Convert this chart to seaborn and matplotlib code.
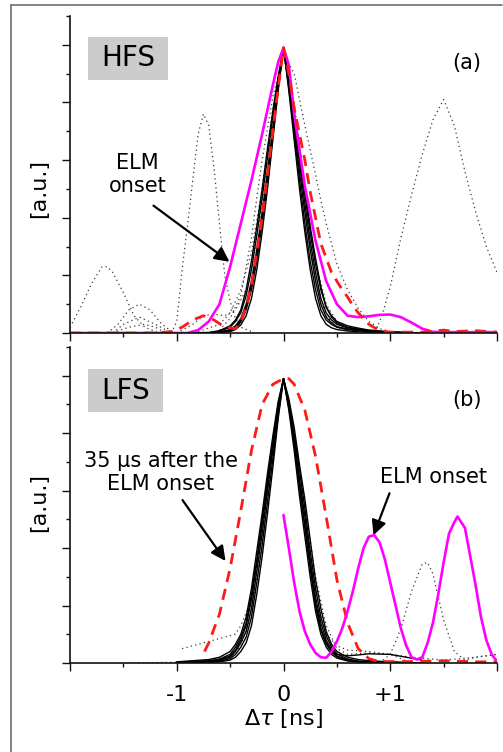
import matplotlib
matplotlib.use("Agg")
import matplotlib.pyplot as plt
import seaborn as sns
from matplotlib.patches import Rectangle
from matplotlib.lines import Line2D

# ---------------- data ----------------
# common grid for the bundle of black solid traces
grid = [-1.0, -0.7, -0.6, -0.5, -0.45, -0.4, -0.35, -0.3, -0.25, -0.2, -0.15, -0.1, -0.05, 0,
        0.05, 0.1, 0.15, 0.2, 0.25, 0.3, 0.35, 0.4, 0.45, 0.5, 0.6, 0.7, 0.8, 1.0, 1.3]

# HFS (top) black solid traces
hfs_c = [0, 0, 0.003, 0.012, 0.025, 0.05, 0.10, 0.18, 0.29, 0.42, 0.56, 0.71, 0.86, 0.99,
         0.86, 0.71, 0.56, 0.42, 0.29, 0.18, 0.10, 0.055, 0.035, 0.022, 0.014, 0.01, 0.006, 0.002, 0]
hfs_n = [0, 0, 0.001, 0.005, 0.012, 0.028, 0.06, 0.12, 0.22, 0.35, 0.50, 0.67, 0.84, 0.99,
         0.84, 0.67, 0.50, 0.35, 0.22, 0.12, 0.06, 0.03, 0.018, 0.012, 0.007, 0.004, 0.002, 0.001, 0]
hfs_w = [0, 0.002, 0.008, 0.025, 0.045, 0.08, 0.15, 0.25, 0.37, 0.50, 0.64, 0.77, 0.89, 0.99,
         0.89, 0.77, 0.64, 0.50, 0.37, 0.26, 0.16, 0.09, 0.055, 0.035, 0.02, 0.014, 0.009, 0.003, 0]
hfs_a1 = [0, 0.001, 0.006, 0.02, 0.04, 0.07, 0.13, 0.22, 0.34, 0.47, 0.61, 0.75, 0.88, 0.99,
          0.85, 0.69, 0.53, 0.38, 0.25, 0.15, 0.08, 0.045, 0.03, 0.02, 0.012, 0.008, 0.005, 0.002, 0]
hfs_a2 = [0, 0, 0.002, 0.008, 0.018, 0.038, 0.08, 0.15, 0.25, 0.38, 0.52, 0.68, 0.85, 0.99,
          0.87, 0.73, 0.59, 0.45, 0.32, 0.21, 0.12, 0.07, 0.045, 0.03, 0.018, 0.012, 0.007, 0.002, 0]
hfs_a3 = [0, 0, 0.002, 0.01, 0.02, 0.045, 0.09, 0.17, 0.27, 0.40, 0.54, 0.70, 0.85, 0.99,
          0.88, 0.75, 0.61, 0.48, 0.35, 0.24, 0.15, 0.09, 0.06, 0.04, 0.025, 0.017, 0.01, 0.004, 0]

# HFS magenta (ELM onset)
hfs_mag_x = [-2.0, -1.0, -0.9, -0.8, -0.7, -0.6, -0.5, -0.4, -0.3, -0.2, -0.1, -0.05, 0, 0.05, 0.1,
             0.2, 0.3, 0.4, 0.5, 0.6, 0.7, 0.8, 0.9, 1.0, 1.1, 1.2, 1.3, 1.4, 1.5, 2.0]
hfs_mag_y = [0, 0, 0, 0.01, 0.04, 0.1, 0.23, 0.38, 0.53, 0.69, 0.86, 0.94, 0.99, 0.93, 0.76,
             0.51, 0.32, 0.18, 0.10, 0.06, 0.055, 0.058, 0.063, 0.064, 0.055, 0.036, 0.015, 0.004, 0.003, 0.003]

# HFS red dashed
hfs_red_x = [-2.0, -1.2, -1.05, -0.95, -0.85, -0.75, -0.65, -0.55, -0.45, -0.4, -0.35, -0.3, -0.25,
             -0.2, -0.15, -0.1, -0.05, 0, 0.05, 0.1, 0.15, 0.2, 0.25, 0.3, 0.35, 0.4, 0.45, 0.5,
             0.55, 0.6, 0.65, 0.7, 0.8, 0.9, 1.0, 1.3, 1.5, 1.6, 1.8, 2.0]
hfs_red_y = [0, 0, 0.005, 0.02, 0.045, 0.06, 0.045, 0.02, 0.015, 0.04, 0.09, 0.17, 0.28,
             0.40, 0.55, 0.70, 0.85, 0.99, 0.9, 0.78, 0.69, 0.6, 0.49, 0.40, 0.31, 0.26, 0.21, 0.18,
             0.15, 0.125, 0.095, 0.07, 0.03, 0.008, 0.003, 0.003, 0.01, 0.005, 0.008, 0.003]

# HFS dotted traces
hfs_d1_x = [-2.0, -1.9, -1.8, -1.7, -1.65, -1.6, -1.5, -1.4, -1.3, -1.2, -1.1]
hfs_d1_y = [0.02, 0.09, 0.17, 0.23, 0.23, 0.21, 0.14, 0.06, 0.02, 0.005, 0]
hfs_d2_x = [-1.65, -1.55, -1.45, -1.35, -1.25, -1.15, -1.05]
hfs_d2_y = [0, 0.03, 0.08, 0.1, 0.08, 0.035, 0.005]
hfs_d3_x = [-1.6, -1.5, -1.35, -1.2, -1.05]
hfs_d3_y = [0, 0.03, 0.055, 0.03, 0]
hfs_d4_x = [-1.05, -1.0, -0.95, -0.9, -0.85, -0.8, -0.75, -0.7, -0.65, -0.6, -0.55, -0.5, -0.45, -0.4, -0.3]
hfs_d4_y = [0, 0.04, 0.22, 0.37, 0.53, 0.69, 0.76, 0.72, 0.57, 0.38, 0.2, 0.11, 0.05, 0.02, 0.005]
hfs_d5_x = [0.8, 0.88, 0.93, 1.0, 1.1, 1.2, 1.3, 1.4, 1.5, 1.6, 1.7, 1.8, 1.9, 2.0]
hfs_d5_y = [0, 0.02, 0.07, 0.16, 0.33, 0.48, 0.62, 0.74, 0.81, 0.72, 0.56, 0.42, 0.30, 0.21]
hfs_d6_x = [-0.6, -0.5, -0.4, -0.3, -0.25, -0.2, -0.1, 0, 0.1, 0.2, 0.3, 0.35, 0.4, 0.5, 0.6, 0.7,
            0.8, 0.9, 1.0, 1.2]
hfs_d6_y = [0.01, 0.05, 0.13, 0.33, 0.47, 0.6, 0.82, 0.97, 0.9, 0.72, 0.55, 0.46, 0.38, 0.24, 0.15,
            0.085, 0.04, 0.015, 0.005, 0]
hfs_d7_x = [-1.0, -0.85, -0.75, -0.65, -0.55, -0.45, -0.35, -0.3, -0.2, -0.1, 0, 0.1, 0.2, 0.3, 0.4, 0.5, 0.7]
hfs_d7_y = [0, 0.03, 0.06, 0.065, 0.06, 0.08, 0.15, 0.22, 0.45, 0.75, 0.97, 0.75, 0.42, 0.18, 0.06, 0.02, 0]
hfs_d8_x = [-1.6, -1.45, -1.3, -1.2, -1.1]
hfs_d8_y = [0, 0.02, 0.03, 0.02, 0]
hfs_d9_x = [-0.8, -0.6, -0.5, -0.4, -0.3, -0.2, -0.1, 0, 0.1, 0.2, 0.3, 0.4, 0.5, 0.6, 0.8]
hfs_d9_y = [0.005, 0.03, 0.07, 0.15, 0.28, 0.5, 0.78, 0.98, 0.8, 0.5, 0.25, 0.1, 0.04, 0.02, 0.005]

# LFS (bottom) black solid traces
lfs_c = [0.002, 0.005, 0.008, 0.02, 0.04, 0.07, 0.11, 0.19, 0.32, 0.45, 0.6, 0.74, 0.88, 0.99,
         0.9, 0.78, 0.64, 0.51, 0.36, 0.23, 0.14, 0.08, 0.045, 0.025, 0.01, 0.005, 0.003, 0.002, 0]
lfs_n = [0, 0.002, 0.004, 0.01, 0.02, 0.04, 0.07, 0.13, 0.24, 0.37, 0.52, 0.68, 0.85, 0.99,
         0.88, 0.74, 0.58, 0.44, 0.30, 0.18, 0.10, 0.055, 0.03, 0.017, 0.007, 0.003, 0.002, 0.001, 0]
lfs_w = [0.004, 0.012, 0.02, 0.04, 0.065, 0.1, 0.16, 0.26, 0.39, 0.52, 0.66, 0.79, 0.91, 0.99,
         0.92, 0.82, 0.69, 0.57, 0.43, 0.29, 0.19, 0.11, 0.065, 0.04, 0.02, 0.012, 0.008, 0.004, 0]
lfs_a1 = [0.002, 0.006, 0.01, 0.025, 0.045, 0.08, 0.13, 0.22, 0.35, 0.48, 0.62, 0.76, 0.89, 0.99,
          0.89, 0.77, 0.62, 0.48, 0.34, 0.21, 0.12, 0.07, 0.045, 0.03, 0.025, 0.028, 0.032, 0.03, 0.01]
lfs_a2 = [0.001, 0.004, 0.006, 0.015, 0.03, 0.055, 0.09, 0.16, 0.28, 0.41, 0.56, 0.71, 0.86, 0.99,
          0.91, 0.8, 0.67, 0.54, 0.39, 0.26, 0.16, 0.095, 0.055, 0.032, 0.014, 0.007, 0.004, 0.002, 0]
lfs_a3 = [0.003, 0.008, 0.014, 0.03, 0.055, 0.09, 0.14, 0.24, 0.36, 0.5, 0.64, 0.77, 0.9, 0.99,
          0.89, 0.76, 0.61, 0.47, 0.33, 0.2, 0.115, 0.065, 0.038, 0.022, 0.01, 0.005, 0.003, 0.001, 0]

# LFS magenta (ELM onset)
lfs_mag_x = [0, 0.05, 0.1, 0.15, 0.2, 0.25, 0.3, 0.35, 0.4, 0.45, 0.5, 0.55, 0.6, 0.65, 0.7, 0.75,
             0.8, 0.85, 0.9, 0.95, 1.0, 1.05, 1.1, 1.15, 1.2, 1.25, 1.3, 1.35, 1.4, 1.45, 1.5, 1.55,
             1.6, 1.63, 1.7, 1.75, 1.8, 1.85, 1.9, 1.95, 2.0]
lfs_mag_y = [0.515, 0.40, 0.28, 0.18, 0.11, 0.065, 0.035, 0.02, 0.018, 0.04, 0.075, 0.12, 0.18,
             0.25, 0.33, 0.40, 0.44, 0.445, 0.42, 0.36, 0.28, 0.2, 0.12, 0.06, 0.02, 0.012, 0.02,
             0.07, 0.14, 0.24, 0.35, 0.45, 0.49, 0.51, 0.47, 0.37, 0.27, 0.16, 0.08, 0.03, 0.005]

# LFS red dashed (35 us after the ELM onset)
lfs_red_x = [-0.74, -0.7, -0.6, -0.5, -0.4, -0.3, -0.2, -0.1, 0, 0.05, 0.1, 0.2, 0.3, 0.4, 0.5,
             0.6, 0.7, 0.8, 0.9, 1.2, 1.5, 1.8, 2.0]
lfs_red_y = [0.04, 0.07, 0.17, 0.33, 0.53, 0.74, 0.9, 0.97, 0.99, 0.99, 0.97, 0.88, 0.72, 0.51,
             0.29, 0.14, 0.05, 0.015, 0.005, 0.005, 0.008, 0.004, 0.004]

# LFS dotted traces
lfs_e1_x = [0.9, 1.0, 1.1, 1.2, 1.3, 1.35, 1.4, 1.5, 1.6, 1.7, 1.8, 2.0]
lfs_e1_y = [0, 0.03, 0.12, 0.25, 0.345, 0.35, 0.31, 0.15, 0.04, 0.01, 0.02, 0.03]
lfs_e2_x = [-0.95, -0.8, -0.6, -0.45, -0.4, -0.3, -0.2, -0.1, 0, 0.1, 0.2, 0.3, 0.4, 0.5, 0.6, 0.8,
            1.0, 1.2, 1.5, 1.8, 2.0]
lfs_e2_y = [0.05, 0.065, 0.085, 0.1, 0.13, 0.22, 0.45, 0.75, 0.99, 0.8, 0.52, 0.25, 0.1, 0.06,
            0.045, 0.04, 0.03, 0.02, 0.01, 0.02, 0.03]
lfs_e3_x = [-1.4, -1.0, -0.7, -0.5, -0.4, -0.3, -0.2, -0.1, 0, 0.1, 0.2, 0.3, 0.4, 0.5, 0.6, 0.8, 1.0, 1.2]
lfs_e3_y = [0, 0.003, 0.008, 0.02, 0.06, 0.17, 0.42, 0.73, 0.99, 0.8, 0.55, 0.3, 0.13, 0.05, 0.03,
            0.035, 0.03, 0.0]

xtick_pos = [-2, -1, 0, 1, 2]
xtick_lab = ["", "-1", "0", "+1", ""]

# ---------------- styling ----------------
sns.set_style("ticks")
plt.rcParams["font.family"] = ["DejaVu Sans"]
plt.rcParams["mathtext.fontset"] = "dejavusans"
plt.rcParams["text.color"] = "black"
plt.rcParams["axes.labelcolor"] = "black"
plt.rcParams["xtick.color"] = "black"
plt.rcParams["ytick.color"] = "black"

W, H = 503, 752
fig = plt.figure(figsize=(W / 100, H / 100), dpi=100)


def px_axes(x0, x1, ytop, ybot):
    return fig.add_axes([x0 / W, 1 - ybot / H, (x1 - x0) / W, (ybot - ytop) / H])


ax1 = px_axes(70, 497, 16, 333)
ax2 = px_axes(70, 497, 347, 663)

DOT = dict(color="#3a3a3a", lw=0.9, linestyle=(0, (1, 2.6)))
BLK = dict(color="black", lw=1.0)
RED = dict(color="#ff1a1a", lw=2.0, linestyle=(0, (4, 2.6)))
MAG = dict(color="#ff00ff", lw=1.9)


def line(ax, x, y, **kw):
    sns.lineplot(x=x, y=y, ax=ax, estimator=None, sort=False, legend=False, **kw)


# top panel
for xs, ys in [(hfs_d1_x, hfs_d1_y), (hfs_d2_x, hfs_d2_y), (hfs_d3_x, hfs_d3_y),
               (hfs_d4_x, hfs_d4_y), (hfs_d5_x, hfs_d5_y), (hfs_d6_x, hfs_d6_y),
               (hfs_d7_x, hfs_d7_y), (hfs_d8_x, hfs_d8_y), (hfs_d9_x, hfs_d9_y)]:
    line(ax1, xs, ys, **DOT)
for ys in [hfs_c, hfs_n, hfs_w, hfs_a1, hfs_a2, hfs_a3]:
    line(ax1, grid, ys, **BLK)
line(ax1, hfs_mag_x, hfs_mag_y, **MAG)
line(ax1, hfs_red_x, hfs_red_y, **RED)

# bottom panel
for xs, ys in [(lfs_e1_x, lfs_e1_y), (lfs_e2_x, lfs_e2_y), (lfs_e3_x, lfs_e3_y)]:
    line(ax2, xs, ys, **DOT)
for ys in [lfs_c, lfs_n, lfs_w, lfs_a1, lfs_a2, lfs_a3]:
    line(ax2, grid, ys, **BLK)
line(ax2, lfs_red_x, lfs_red_y, **RED)
line(ax2, lfs_mag_x, lfs_mag_y, **MAG)

for ax in (ax1, ax2):
    ax.set_xlim(-2, 2)
    ax.set_ylim(0, 1.1)
    sns.despine(ax=ax)
    for s in ("left", "bottom"):
        ax.spines[s].set_linewidth(1.2)
        ax.spines[s].set_color("#111111")
    ax.set_xticks(xtick_pos)
    ax.set_xticks([-1.5, -0.5, 0.5, 1.5], minor=True)
    ax.set_yticks([0, 0.2, 0.4, 0.6, 0.8, 1.0])
    ax.set_yticks([0.1, 0.3, 0.5, 0.7, 0.9, 1.1], minor=True)
    ax.set_yticklabels([])
    ax.tick_params(which="major", direction="out", length=5.5, width=1.0, color="#111111")
    ax.tick_params(which="minor", direction="out", length=2.8, width=1.0, color="#111111")
    ax.set_xlabel("")
    ax.set_ylabel("")

ax1.set_xticklabels([])
ax2.set_xticklabels(xtick_lab, fontsize=16, color="black")
ax2.tick_params(axis="x", which="major", pad=10)

# labels
fig.text(39 / W, 1 - 188 / H, "[a.u.]", rotation=90, ha="center", va="center", fontsize=16)
fig.text(39 / W, 1 - 502 / H, "[a.u.]", rotation=90, ha="center", va="center", fontsize=16)
fig.text(283 / W, 1 - 718 / H, r"Δ$\tau$ [ns]", ha="center", va="center", fontsize=16)

# panel tags
ax1.add_patch(Rectangle((0.042, 0.798), 0.1875, 0.136, transform=ax1.transAxes,
                        facecolor="#cccccc", edgecolor="none", zorder=5))
ax1.text(0.136, 0.866, "HFS", transform=ax1.transAxes, ha="center", va="center",
         fontsize=20, zorder=6)
ax2.add_patch(Rectangle((0.042, 0.794), 0.176, 0.136, transform=ax2.transAxes,
                        facecolor="#cccccc", edgecolor="none", zorder=5))
ax2.text(0.130, 0.862, "LFS", transform=ax2.transAxes, ha="center", va="center",
         fontsize=20, zorder=6)
ax1.text(0.93, 0.852, "(a)", transform=ax1.transAxes, ha="center", va="center", fontsize=15)
ax2.text(0.93, 0.832, "(b)", transform=ax2.transAxes, ha="center", va="center", fontsize=15)

# annotations
ARR = dict(arrowstyle="-|>", color="black", lw=1.6, mutation_scale=22, shrinkA=0, shrinkB=0)
ax1.text(-1.37, 0.55, "ELM\nonset", ha="center", va="center", fontsize=15, linespacing=1.2)
ax1.annotate("", xy=(-0.506, 0.247), xytext=(-1.218, 0.442), arrowprops=ARR)
ax2.text(-1.152, 0.664, "35 μs after the\nELM onset", ha="center", va="center", fontsize=15,
         linespacing=1.2)
ax2.annotate("", xy=(-0.543, 0.355), xytext=(-0.946, 0.567), arrowprops=ARR)
ax2.text(1.405, 0.647, "ELM onset", ha="center", va="center", fontsize=15)
ax2.annotate("", xy=(0.843, 0.445), xytext=(0.993, 0.591), arrowprops=ARR)

# outer frame lines (left and top)
fig.add_artist(Line2D([11 / W, 11 / W], [0, 1 - 4.5 / H], color="#6e6e6e", lw=1.2))
fig.add_artist(Line2D([11 / W, 502 / W], [1 - 4.5 / H, 1 - 4.5 / H], color="#6e6e6e", lw=1.2))

fig.savefig("out.png", dpi=100)
